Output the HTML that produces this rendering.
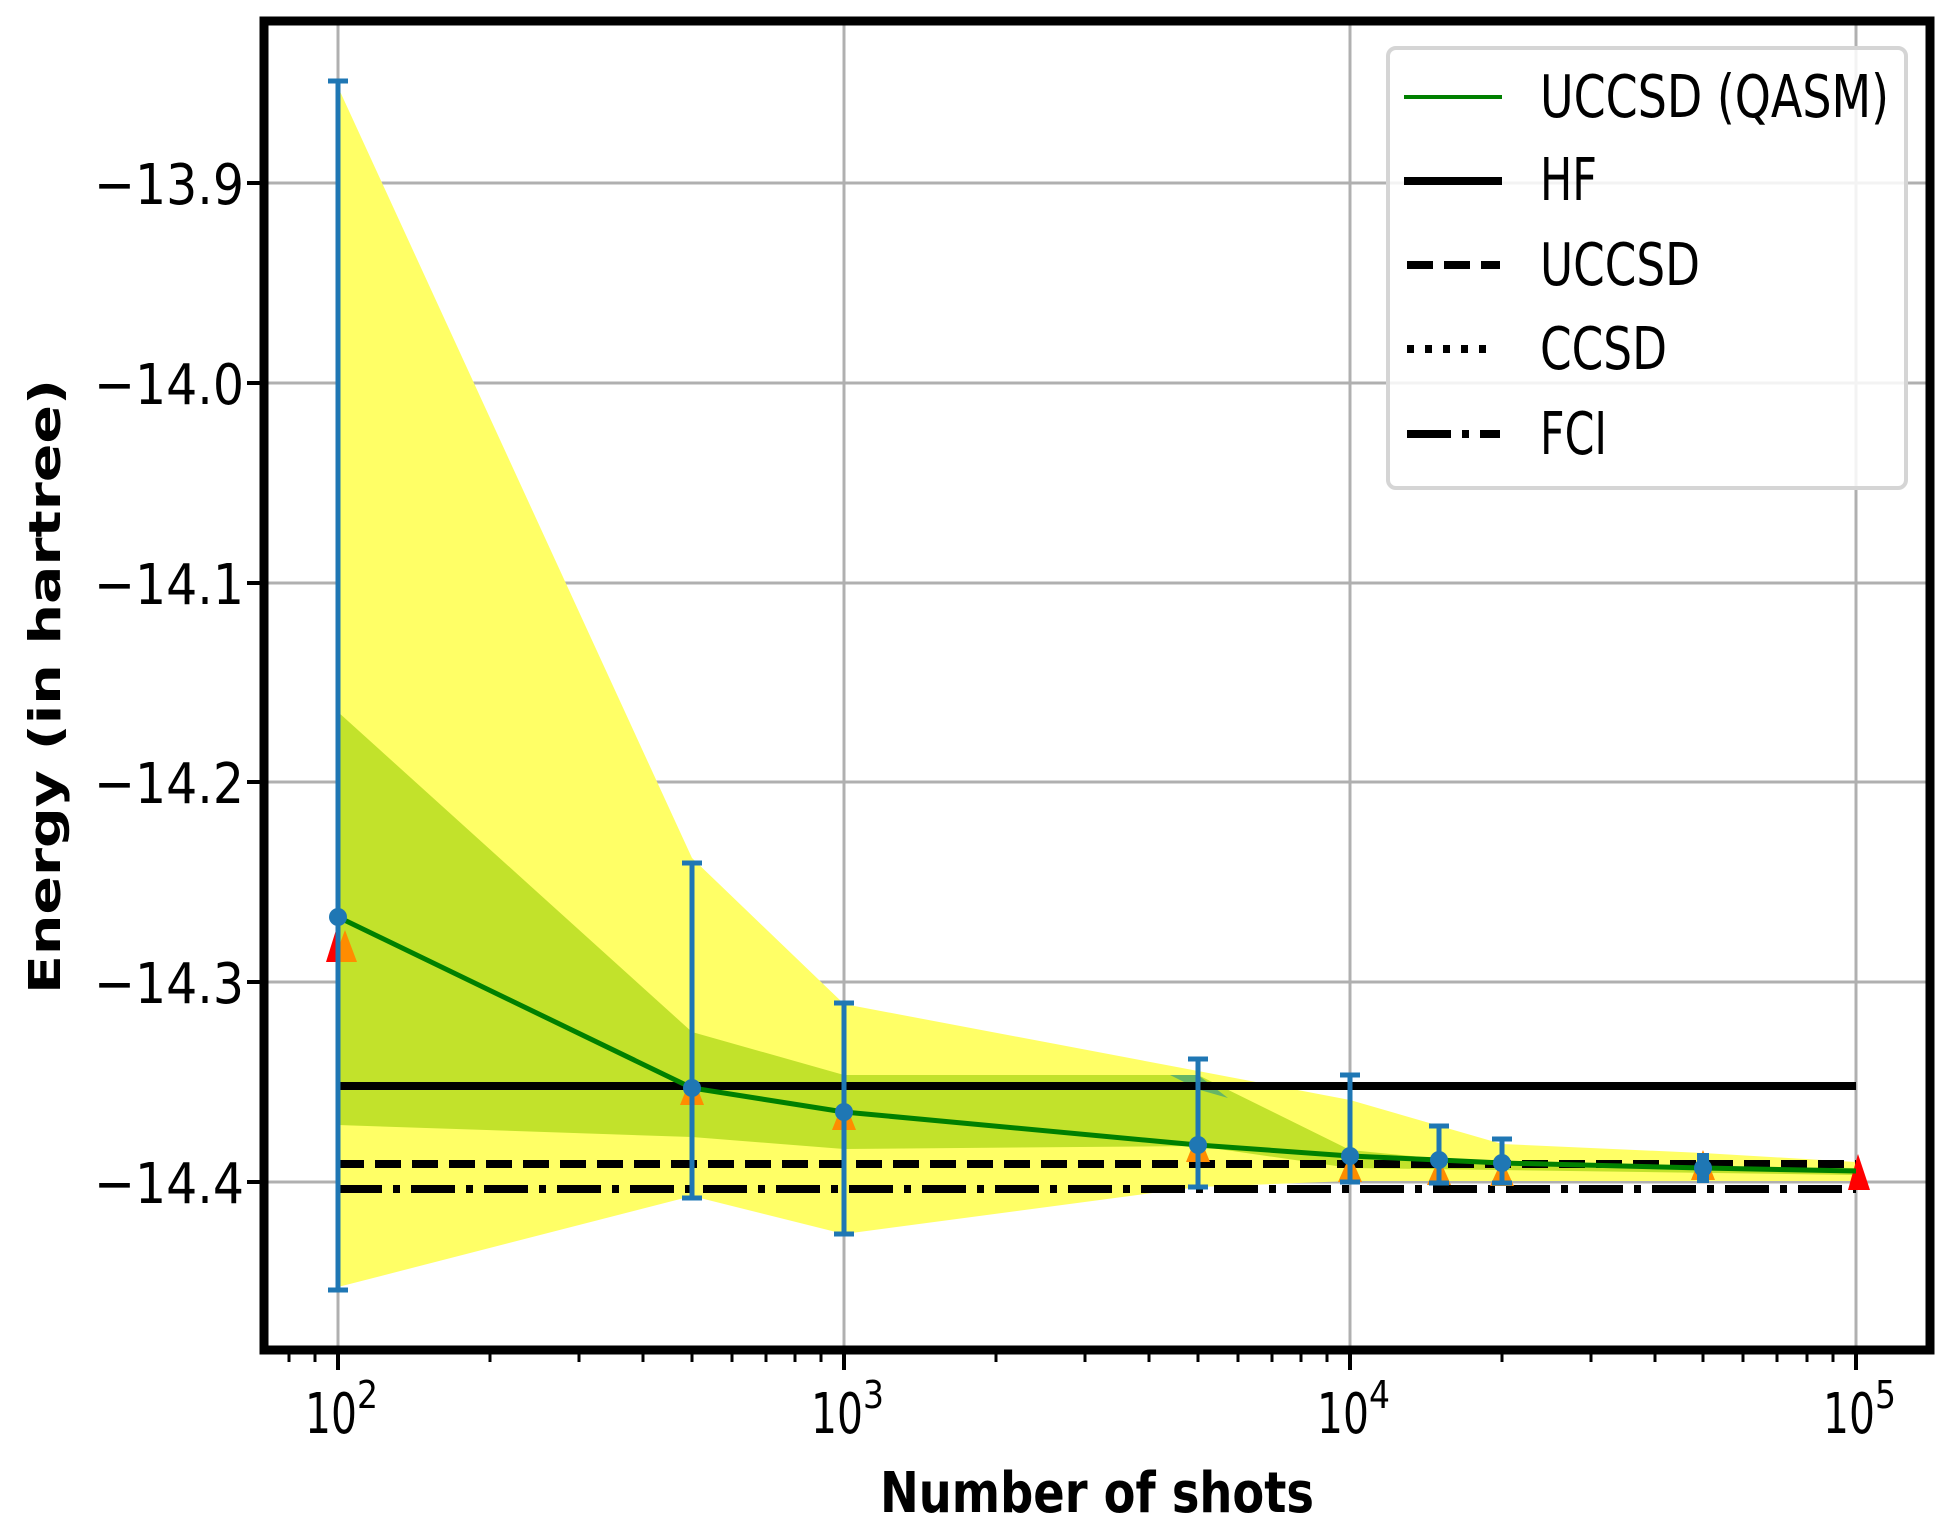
<!DOCTYPE html>
<html><head><meta charset="utf-8"><style>body{margin:0;background:#fff}svg{display:block}</style></head>
<body>
<svg width="1949" height="1525" viewBox="0 0 1949 1525" xmlns="http://www.w3.org/2000/svg" font-family="DejaVu Sans, Liberation Sans, sans-serif">
<rect width="1949" height="1525" fill="#fff"/>
<!-- grid -->
<g stroke="#b0b0b0" stroke-width="3">
<line x1="338" y1="21" x2="338" y2="1350"/><line x1="844" y1="21" x2="844" y2="1350"/>
<line x1="1350" y1="21" x2="1350" y2="1350"/><line x1="1856" y1="21" x2="1856" y2="1350"/>
<line x1="264" y1="183" x2="1930" y2="183"/><line x1="264" y1="383" x2="1930" y2="383"/>
<line x1="264" y1="583" x2="1930" y2="583"/><line x1="264" y1="782" x2="1930" y2="782"/>
<line x1="264" y1="982" x2="1930" y2="982"/><line x1="264" y1="1182" x2="1930" y2="1182"/>
</g>
<!-- outer band -->
<polygon fill="#ffff66" points="338,87 692,858 844,1004 1198,1071 1350,1100 1502,1144 1703,1153 1856,1162 1856,1181 1350,1181 1198,1187 844,1234 692,1196 338,1287"/>
<!-- inner band -->
<polygon fill="#c2e22b" points="338,712 692,1032 844,1075 1198,1075 1350,1150 1502,1165 1856,1168 1856,1175 1350,1168 1198,1146 844,1149 692,1137 338,1125"/>
<polygon fill="#66b566" points="1170,1075 1198,1075 1228,1098 1200,1090"/>
<!-- reference lines -->
<line x1="338" y1="1086" x2="1856" y2="1086" stroke="#000" stroke-width="8"/>
<line x1="338" y1="1164" x2="1856" y2="1164" stroke="#000" stroke-width="8" stroke-dasharray="26,11"/>
<line x1="338" y1="1189" x2="1856" y2="1189" stroke="#000" stroke-width="8" stroke-dasharray="44,11,7,11"/>
<!-- triangles -->
<g fill="#ff8c00">
<polygon points="345,930 333,962 357,962"/><polygon points="692,1075 680,1105 704,1105"/>
<polygon points="844,1100 832,1130 856,1130"/><polygon points="1198,1132 1186,1162 1210,1162"/>
<polygon points="1350,1155 1338,1182 1362,1182"/><polygon points="1439,1158 1427,1185 1451,1185"/>
<polygon points="1502,1160 1490,1186 1514,1186"/><polygon points="1703,1150 1691,1180 1715,1180"/>
</g>
<polygon fill="#ff0000" points="336,930 326,962 340,962"/>
<polygon fill="#ff0000" points="1858,1154 1848,1190 1870,1190"/>
<!-- green line -->
<polyline fill="none" stroke="#008000" stroke-width="5" points="338,917 692,1088 844,1112 1198,1145 1350,1156 1439,1160 1502,1163 1703,1168 1856,1171"/>
<!-- error bars -->
<g stroke="#1f77b4" stroke-width="5">
<line x1="338" y1="81" x2="338" y2="1290"/><line x1="328" y1="81" x2="348" y2="81"/><line x1="328" y1="1290" x2="348" y2="1290"/>
<line x1="692" y1="863" x2="692" y2="1198"/><line x1="682" y1="863" x2="702" y2="863"/><line x1="682" y1="1198" x2="702" y2="1198"/>
<line x1="844" y1="1003" x2="844" y2="1234"/><line x1="834" y1="1003" x2="854" y2="1003"/><line x1="834" y1="1234" x2="854" y2="1234"/>
<line x1="1198" y1="1059" x2="1198" y2="1187"/><line x1="1188" y1="1059" x2="1208" y2="1059"/><line x1="1188" y1="1187" x2="1208" y2="1187"/>
<line x1="1350" y1="1075" x2="1350" y2="1182"/><line x1="1340" y1="1075" x2="1360" y2="1075"/><line x1="1340" y1="1182" x2="1360" y2="1182"/>
<line x1="1439" y1="1126" x2="1439" y2="1183"/><line x1="1429" y1="1126" x2="1449" y2="1126"/><line x1="1429" y1="1183" x2="1449" y2="1183"/>
<line x1="1502" y1="1139" x2="1502" y2="1183"/><line x1="1492" y1="1139" x2="1512" y2="1139"/><line x1="1492" y1="1183" x2="1512" y2="1183"/>
</g>
<rect x="1697" y="1153" width="12" height="30" fill="#1f77b4"/>
<g fill="#1f77b4">
<circle cx="338" cy="917" r="9"/><circle cx="692" cy="1088" r="9"/><circle cx="844" cy="1112" r="9"/>
<circle cx="1198" cy="1145" r="9"/><circle cx="1350" cy="1156" r="9"/><circle cx="1439" cy="1160" r="9"/>
<circle cx="1502" cy="1163" r="9"/><circle cx="1703" cy="1168" r="9"/>
</g>
<!-- spines -->
<rect x="264" y="21" width="1666" height="1329" fill="none" stroke="#000" stroke-width="9"/>
<!-- ticks -->
<g stroke="#000" stroke-width="4">
<line x1="338" y1="1354" x2="338" y2="1370"/><line x1="844" y1="1354" x2="844" y2="1370"/>
<line x1="1350" y1="1354" x2="1350" y2="1370"/><line x1="1856" y1="1354" x2="1856" y2="1370"/>
<line x1="247" y1="183" x2="260" y2="183"/><line x1="247" y1="383" x2="260" y2="383"/>
<line x1="247" y1="583" x2="260" y2="583"/><line x1="247" y1="782" x2="260" y2="782"/>
<line x1="247" y1="982" x2="260" y2="982"/><line x1="247" y1="1182" x2="260" y2="1182"/>
</g>
<g stroke="#000" stroke-width="3">
<line x1="289" y1="1354" x2="289" y2="1362"/><line x1="315" y1="1354" x2="315" y2="1362"/>
<line x1="490" y1="1354" x2="490" y2="1362"/><line x1="579" y1="1354" x2="579" y2="1362"/><line x1="643" y1="1354" x2="643" y2="1362"/><line x1="692" y1="1354" x2="692" y2="1362"/><line x1="732" y1="1354" x2="732" y2="1362"/><line x1="766" y1="1354" x2="766" y2="1362"/><line x1="795" y1="1354" x2="795" y2="1362"/><line x1="821" y1="1354" x2="821" y2="1362"/>
<line x1="996" y1="1354" x2="996" y2="1362"/><line x1="1085" y1="1354" x2="1085" y2="1362"/><line x1="1149" y1="1354" x2="1149" y2="1362"/><line x1="1198" y1="1354" x2="1198" y2="1362"/><line x1="1238" y1="1354" x2="1238" y2="1362"/><line x1="1272" y1="1354" x2="1272" y2="1362"/><line x1="1301" y1="1354" x2="1301" y2="1362"/><line x1="1327" y1="1354" x2="1327" y2="1362"/>
<line x1="1502" y1="1354" x2="1502" y2="1362"/><line x1="1591" y1="1354" x2="1591" y2="1362"/><line x1="1655" y1="1354" x2="1655" y2="1362"/><line x1="1703" y1="1354" x2="1703" y2="1362"/><line x1="1743" y1="1354" x2="1743" y2="1362"/><line x1="1777" y1="1354" x2="1777" y2="1362"/><line x1="1807" y1="1354" x2="1807" y2="1362"/><line x1="1833" y1="1354" x2="1833" y2="1362"/>
</g>
<!-- y tick labels -->
<g font-size="56" text-anchor="end" fill="#000">
<text x="244" y="204" textLength="150" lengthAdjust="spacingAndGlyphs">−13.9</text>
<text x="244" y="404" textLength="150" lengthAdjust="spacingAndGlyphs">−14.0</text>
<text x="244" y="604" textLength="150" lengthAdjust="spacingAndGlyphs">−14.1</text>
<text x="244" y="803" textLength="150" lengthAdjust="spacingAndGlyphs">−14.2</text>
<text x="244" y="1003" textLength="150" lengthAdjust="spacingAndGlyphs">−14.3</text>
<text x="244" y="1203" textLength="150" lengthAdjust="spacingAndGlyphs">−14.4</text>
</g>
<!-- x tick labels -->
<g font-size="56" fill="#000">
<text x="305" y="1433" textLength="52" lengthAdjust="spacingAndGlyphs">10</text><text x="357" y="1408" font-size="38" textLength="21" lengthAdjust="spacingAndGlyphs">2</text>
<text x="811" y="1433" textLength="52" lengthAdjust="spacingAndGlyphs">10</text><text x="863" y="1408" font-size="38" textLength="21" lengthAdjust="spacingAndGlyphs">3</text>
<text x="1317" y="1433" textLength="52" lengthAdjust="spacingAndGlyphs">10</text><text x="1369" y="1408" font-size="38" textLength="21" lengthAdjust="spacingAndGlyphs">4</text>
<text x="1823" y="1433" textLength="52" lengthAdjust="spacingAndGlyphs">10</text><text x="1875" y="1408" font-size="38" textLength="21" lengthAdjust="spacingAndGlyphs">5</text>
</g>
<text x="880" y="1512" font-size="56" font-weight="bold" textLength="434" lengthAdjust="spacingAndGlyphs">Number of shots</text>
<text transform="translate(60,994) rotate(-90)" font-size="44" font-weight="bold" textLength="615" lengthAdjust="spacingAndGlyphs">Energy (in hartree)</text>
<!-- legend -->
<rect x="1388" y="48" width="518" height="440" rx="8" fill="#fff" fill-opacity="0.85" stroke="#d5d5d5" stroke-width="4"/>
<line x1="1404" y1="97" x2="1502" y2="97" stroke="#008000" stroke-width="4"/>
<line x1="1404" y1="181" x2="1502" y2="181" stroke="#000" stroke-width="8"/>
<line x1="1407" y1="265" x2="1500" y2="265" stroke="#000" stroke-width="8" stroke-dasharray="26,11"/>
<line x1="1407" y1="349" x2="1490" y2="349" stroke="#000" stroke-width="8" stroke-dasharray="7,11"/>
<line x1="1407" y1="434" x2="1500" y2="434" stroke="#000" stroke-width="8" stroke-dasharray="44,11,7,11"/>
<g font-size="59" fill="#000">
<text x="1540" y="117" textLength="349" lengthAdjust="spacingAndGlyphs">UCCSD (QASM)</text>
<text x="1540" y="200" textLength="57" lengthAdjust="spacingAndGlyphs">HF</text>
<text x="1540" y="285" textLength="160" lengthAdjust="spacingAndGlyphs">UCCSD</text>
<text x="1540" y="369" textLength="127" lengthAdjust="spacingAndGlyphs">CCSD</text>
<text x="1540" y="454" textLength="67" lengthAdjust="spacingAndGlyphs">FCI</text>
</g>
</svg>
</body></html>
